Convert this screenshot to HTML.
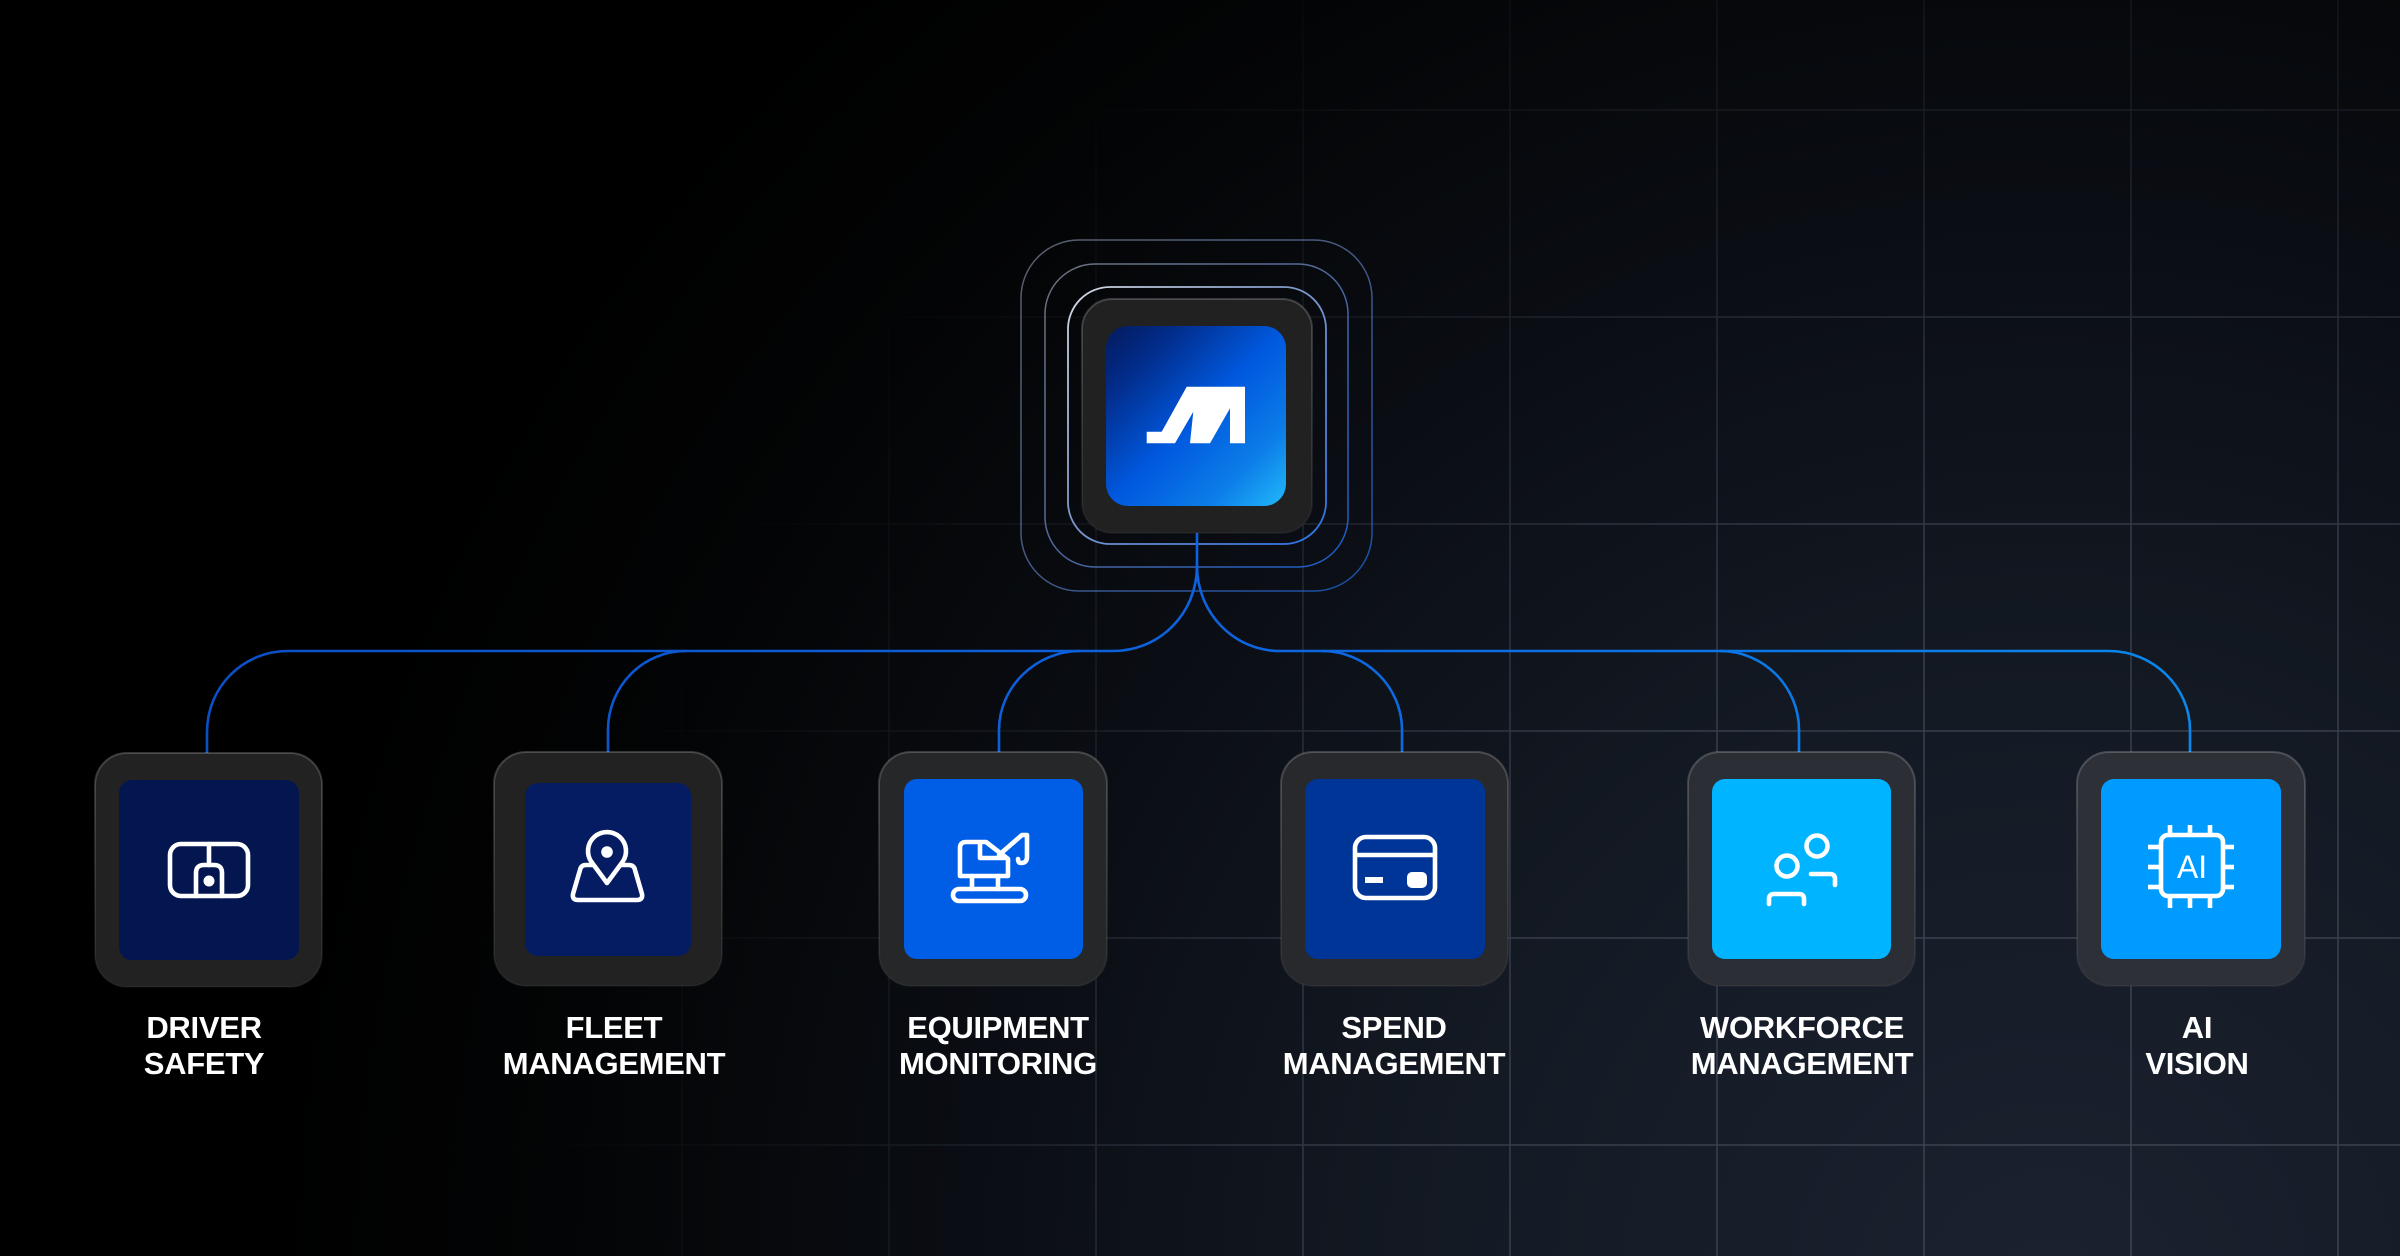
<!DOCTYPE html>
<html>
<head>
<meta charset="utf-8">
<style>
  html,body{margin:0;padding:0;}
  body{width:2400px;height:1256px;overflow:hidden;background:#000;position:relative;font-family:"Liberation Sans",Arial,sans-serif;}
  svg{position:absolute;left:0;top:0;}
  .lbl{position:absolute;width:400px;text-align:center;color:#fff;font-size:31px;line-height:36px;font-weight:700;letter-spacing:-0.3px;top:1010px;}
</style>
</head>
<body>
<svg width="2400" height="1256" viewBox="0 0 2400 1256" xmlns="http://www.w3.org/2000/svg">
  <defs>
    <radialGradient id="bg" cx="2050" cy="1300" r="2000" gradientUnits="userSpaceOnUse">
      <stop offset="0" stop-color="#1a2230"/>
      <stop offset="0.3" stop-color="#141a24"/>
      <stop offset="0.55" stop-color="#0a0d13"/>
      <stop offset="0.75" stop-color="#030405"/>
      <stop offset="0.9" stop-color="#000"/>
      <stop offset="1" stop-color="#000"/>
    </radialGradient>
    <radialGradient id="gm" cx="2100" cy="1256" r="1800" gradientUnits="userSpaceOnUse">
      <stop offset="0" stop-color="#fff" stop-opacity="1"/>
      <stop offset="0.4" stop-color="#fff" stop-opacity="0.8"/>
      <stop offset="0.65" stop-color="#fff" stop-opacity="0.3"/>
      <stop offset="0.85" stop-color="#fff" stop-opacity="0.04"/>
      <stop offset="1" stop-color="#fff" stop-opacity="0"/>
    </radialGradient>
    <mask id="gridMask" maskUnits="userSpaceOnUse" x="0" y="0" width="2400" height="1256">
      <rect width="2400" height="1256" fill="url(#gm)"/>
    </mask>
    <linearGradient id="ring" x1="0" y1="0" x2="1" y2="1">
      <stop offset="0" stop-color="#9aa3b5" stop-opacity="0.75"/>
      <stop offset="0.45" stop-color="#5a74a8"/>
      <stop offset="1" stop-color="#1a63dc"/>
    </linearGradient>
    <linearGradient id="ring1" x1="0" y1="0" x2="1" y2="1">
      <stop offset="0" stop-color="#d6dbe5"/>
      <stop offset="0.45" stop-color="#7f98c8"/>
      <stop offset="1" stop-color="#2a72e6"/>
    </linearGradient>
    <linearGradient id="logoGrad" x1="0" y1="0" x2="1" y2="1">
      <stop offset="0" stop-color="#041a5c"/>
      <stop offset="0.18" stop-color="#022a86"/>
      <stop offset="0.5" stop-color="#0058de"/>
      <stop offset="0.78" stop-color="#0c7de8"/>
      <stop offset="1" stop-color="#22b9fb"/>
    </linearGradient>
    <linearGradient id="conn" x1="200" y1="0" x2="2200" y2="0" gradientUnits="userSpaceOnUse">
      <stop offset="0" stop-color="#0b4fc6"/>
      <stop offset="0.5" stop-color="#0d62de"/>
      <stop offset="1" stop-color="#0a88ec"/>
    </linearGradient>
    <linearGradient id="tileStroke" x1="0" y1="0" x2="0" y2="1">
      <stop offset="0" stop-color="#ffffff" stop-opacity="0.2"/>
      <stop offset="1" stop-color="#ffffff" stop-opacity="0.04"/>
    </linearGradient>
  </defs>

  <!-- background -->
  <rect width="2400" height="1256" fill="url(#bg)"/>

  <!-- grid -->
  <g mask="url(#gridMask)" stroke="#3f4653" stroke-width="1.5">
    <line x1="682" y1="0" x2="682" y2="1256"/>
    <line x1="889" y1="0" x2="889" y2="1256"/>
    <line x1="1096" y1="0" x2="1096" y2="1256"/>
    <line x1="1303" y1="0" x2="1303" y2="1256"/>
    <line x1="1510" y1="0" x2="1510" y2="1256"/>
    <line x1="1717" y1="0" x2="1717" y2="1256"/>
    <line x1="1924" y1="0" x2="1924" y2="1256"/>
    <line x1="2131" y1="0" x2="2131" y2="1256"/>
    <line x1="2338" y1="0" x2="2338" y2="1256"/>
    <line x1="0" y1="110" x2="2400" y2="110"/>
    <line x1="0" y1="317" x2="2400" y2="317"/>
    <line x1="0" y1="524" x2="2400" y2="524"/>
    <line x1="0" y1="731" x2="2400" y2="731"/>
    <line x1="0" y1="938" x2="2400" y2="938"/>
    <line x1="0" y1="1145" x2="2400" y2="1145"/>
  </g>

  <!-- rings around the center tile -->
  <rect x="1021" y="240" width="351" height="351" rx="58" fill="none" stroke="url(#ring)" stroke-width="1.5" opacity="0.75"/>
  <rect x="1045" y="264" width="303" height="303" rx="50" fill="none" stroke="url(#ring)" stroke-width="1.5" opacity="0.9"/>
  <rect x="1068" y="287" width="258" height="257" rx="42" fill="none" stroke="url(#ring1)" stroke-width="1.8"/>

  <!-- connectors -->
  <g fill="none" stroke="url(#conn)" stroke-width="2.6">
    <path d="M1197,533 V566 C1197,613 1160,651 1113,651 H288 C243,651 207,687 207,732 V754"/>
    <path d="M1197,566 C1197,613 1234,651 1280,651 H2109 C2153,651 2190,687 2190,730 V753"/>
    <path d="M686,651 C642,651 608,687 608,730 V753"/>
    <path d="M1080,651 C1036,651 999,687 999,730 V753"/>
    <path d="M1322,651 C1366,651 1402,687 1402,730 V753"/>
    <path d="M1720,651 C1764,651 1799,687 1799,730 V753"/>
  </g>

  <!-- center tile -->
  <rect x="1082" y="299" width="230" height="234" rx="30" fill="#212122" stroke="url(#tileStroke)" stroke-width="2"/>
  <rect x="1106" y="326" width="180" height="180" rx="22" fill="url(#logoGrad)"/>
  <polygon fill="#fff" points="1146.7,443.3 1146.7,431.7 1161.7,431.7 1186.7,386.7 1245,386.7 1245,443.3 1230,443.3 1230,408.3 1210,443.3 1190,443.3 1193.3,411.7 1175,443.3"/>

  <!-- service tiles outer -->
  <rect x="95" y="753" width="227" height="234" rx="32" fill="#222223" stroke="url(#tileStroke)" stroke-width="2"/>
  <rect x="494" y="752" width="228" height="234" rx="32" fill="#222223" stroke="url(#tileStroke)" stroke-width="2"/>
  <rect x="879" y="752" width="228" height="234" rx="32" fill="#262729" stroke="url(#tileStroke)" stroke-width="2"/>
  <rect x="1281" y="752" width="227" height="234" rx="32" fill="#28292d" stroke="url(#tileStroke)" stroke-width="2"/>
  <rect x="1688" y="752" width="227" height="234" rx="32" fill="#2b2e34" stroke="url(#tileStroke)" stroke-width="2"/>
  <rect x="2077" y="752" width="228" height="234" rx="32" fill="#2d3037" stroke="url(#tileStroke)" stroke-width="2"/>

  <!-- inner squares -->
  <rect x="119" y="780" width="180" height="180" rx="13" fill="#04164f"/>
  <rect x="525" y="783" width="166" height="173" rx="13" fill="#051b62"/>
  <rect x="904" y="779" width="179" height="180" rx="13" fill="#005ee6"/>
  <rect x="1305" y="779" width="180" height="180" rx="13" fill="#003598"/>
  <rect x="1712" y="779" width="179" height="180" rx="13" fill="#00b4ff"/>
  <rect x="2101" y="779" width="180" height="180" rx="13" fill="#009bff"/>

  <!-- icons -->
  <g fill="none" stroke="#fff" stroke-width="4.6" stroke-linecap="round" stroke-linejoin="round">
    <!-- driver safety -->
    <rect x="170" y="844" width="78" height="52" rx="11"/>
    <line x1="209" y1="844" x2="209" y2="865"/>
    <path d="M196,896 V873 Q196,865 204,865 H214 Q222,865 222,873 V896"/>
    <!-- fleet -->
    <path d="M607,883 L591.7,862.3 A19,19 0 1 1 622.3,862.3 Z"/>
    <path d="M592,865 H586 Q581,865 580,870 L573,894 Q572,900 578,900 H637 Q643,900 642,894 L635,870 Q634,865 629,865 H622"/>
    <!-- equipment -->
    <rect x="953" y="889" width="73" height="12" rx="6"/>
    <line x1="972" y1="876" x2="972" y2="889"/>
    <line x1="998" y1="876" x2="998" y2="889"/>
    <path d="M960,876 V848 Q960,842 966,842 H986 L1008,859 V876 Z"/>
    <path d="M980,845 V858 H1005"/>
    <path d="M999,855 L1022,835 H1027 V857 Q1027,863 1021,863 Q1018,863 1018,859"/>
    <!-- spend -->
    <rect x="1355" y="837" width="80" height="61" rx="11"/>
    <line x1="1356" y1="855" x2="1434" y2="855"/>
    <!-- workforce -->
    <circle cx="1787" cy="866" r="10.5"/>
    <path d="M1769,904 V899 Q1769,894 1774,894 H1799 Q1804,894 1804,899 V904"/>
    <circle cx="1817" cy="846" r="10.5"/>
    <path d="M1811,874 H1830 Q1835,874 1835,879 V885"/>
    <!-- AI chip -->
    <rect x="2161" y="835" width="62" height="61" rx="7"/>
  </g>
  <g fill="#fff">
    <circle cx="209" cy="881" r="5.5"/>
    <circle cx="607" cy="852" r="5.8"/>
    <rect x="1365" y="877" width="18" height="6"/>
    <rect x="1407" y="872" width="20" height="16" rx="5"/>
  </g>
  <g stroke="#fff" stroke-width="4.6">
    <line x1="2170" y1="825" x2="2170" y2="835"/>
    <line x1="2190" y1="825" x2="2190" y2="835"/>
    <line x1="2210" y1="825" x2="2210" y2="835"/>
    <line x1="2170" y1="896" x2="2170" y2="908"/>
    <line x1="2190" y1="896" x2="2190" y2="908"/>
    <line x1="2210" y1="896" x2="2210" y2="908"/>
    <line x1="2148" y1="847" x2="2161" y2="847"/>
    <line x1="2148" y1="867" x2="2161" y2="867"/>
    <line x1="2148" y1="887" x2="2161" y2="887"/>
    <line x1="2223" y1="847" x2="2234" y2="847"/>
    <line x1="2223" y1="867" x2="2234" y2="867"/>
    <line x1="2223" y1="887" x2="2234" y2="887"/>
  </g>
  <text x="2192" y="878" fill="#fff" font-family="Liberation Sans, Arial, sans-serif" font-size="32" text-anchor="middle">AI</text>
</svg>

<div class="lbl" style="left:4px;">DRIVER<br>SAFETY</div>
<div class="lbl" style="left:414px;">FLEET<br>MANAGEMENT</div>
<div class="lbl" style="left:798px;">EQUIPMENT<br>MONITORING</div>
<div class="lbl" style="left:1194px;">SPEND<br>MANAGEMENT</div>
<div class="lbl" style="left:1602px;">WORKFORCE<br>MANAGEMENT</div>
<div class="lbl" style="left:1997px;">AI<br>VISION</div>
</body>
</html>
